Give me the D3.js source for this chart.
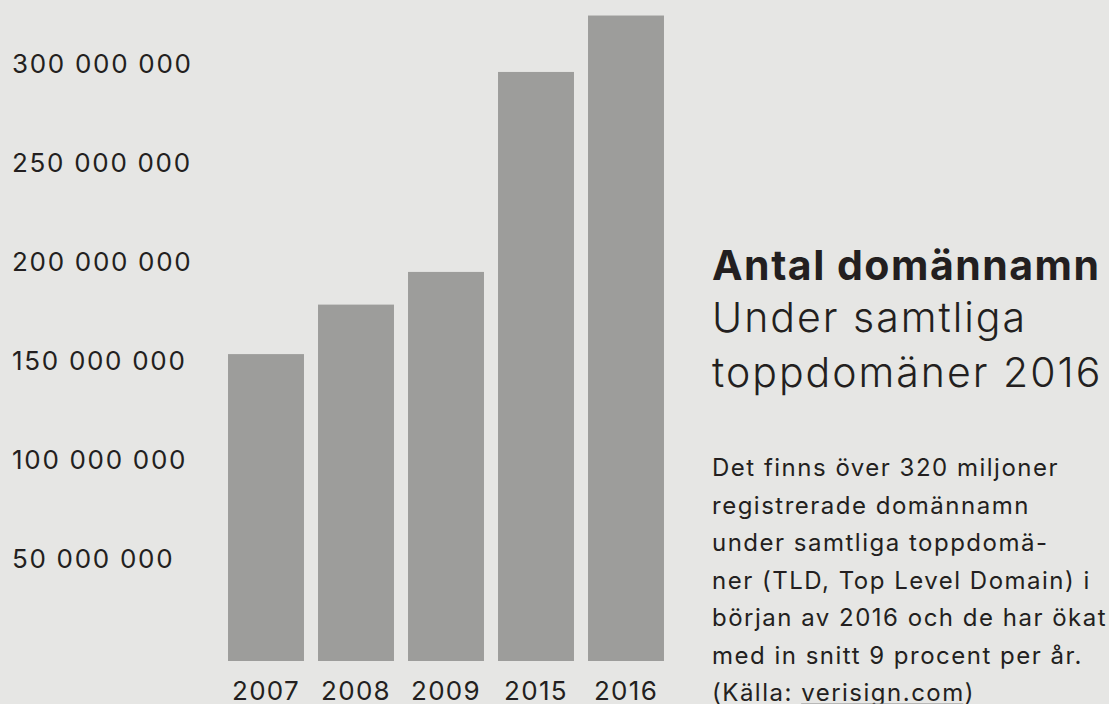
<!DOCTYPE html>
<html>
<head>
<meta charset="utf-8">
<script src="https://cdn.jsdelivr.net/npm/d3@7"></script>
<style>
  html, body { margin: 0; padding: 0; background: #e6e6e4; }
  svg { display: block; }
  text { font-family: Inter, "Open Sans", sans-serif; fill: #231f20; }
</style>
</head>
<body>
<svg id="chart" width="1109" height="704"></svg>
<script>
const categories = ["2007", "2008", "2009", "2015", "2016"];
const values = [155000000, 180000000, 196500000, 297500000, 326000000];
const tickValues = [50000000, 100000000, 150000000, 200000000, 250000000, 300000000];
const tickLabels = ["50 000 000", "100 000 000", "150 000 000", "200 000 000", "250 000 000", "300 000 000"];
const titleBold = "Antal domännamn";
const titleLines = ["Under samtliga", "toppdomäner 2016"];
const bodyLines = [
  "Det finns över 320 miljoner",
  "registrerade domännamn",
  "under samtliga toppdomä-",
  "ner (TLD, Top Level Domain) i",
  "början av 2016 och de har ökat",
  "med in snitt 9 procent per år."
];
const sourcePrefix = "(Källa: ";
const sourceLink = "verisign.com";
const sourceSuffix = ")";

const svg = d3.select("#chart");
svg.append("rect").attr("width", 1109).attr("height", 704).attr("fill", "#e6e6e4");

const x = d3.scaleBand().domain(categories).range([221, 671]).paddingInner(0.156).paddingOuter(0.078);
const y = d3.scaleLinear().domain([0, 300000000]).range([661, 67]);

svg.append("g").selectAll("rect").data(categories).join("rect")
  .attr("x", d => x(d))
  .attr("width", x.bandwidth())
  .attr("y", (d, i) => y(values[i]))
  .attr("height", (d, i) => y(0) - y(values[i]))
  .attr("fill", "#9d9d9b");

// Y axis (labels only)
const yAxis = d3.axisLeft(y).tickValues(tickValues)
  .tickFormat((d, i) => tickLabels[i]).tickSize(0).tickPadding(0);
const gy = svg.append("g").attr("transform", "translate(12,0)").call(yAxis);
gy.select(".domain").remove();
gy.selectAll("text")
  .attr("text-anchor", "start")
  .attr("x", 0)
  .attr("dy", null)
  .attr("y", 5)
  .attr("fill", "#231f20")
  .style("font-family", "Inter, sans-serif")
  .style("font-size", "26px")
  .style("letter-spacing", "1.7px");

// X axis
const xAxis = d3.axisBottom(x).tickSize(0).tickPadding(0);
const gx = svg.append("g").attr("transform", "translate(0,700)").call(xAxis);
gx.select(".domain").remove();
gx.selectAll("text")
  .attr("y", 0).attr("dy", null)
  .attr("fill", "#231f20")
  .style("font-family", "Inter, sans-serif")
  .style("font-size", "26px")
  .style("letter-spacing", "1.3px");

// Title block
const tx = 712;
svg.append("text").attr("x", tx).attr("y", 280)
  .style("font-size", "41px").style("font-weight", "700").style("letter-spacing", "1.5px").text(titleBold);
titleLines.forEach((t, i) => {
  svg.append("text").attr("x", tx).attr("y", 332 + i * 55)
    .style("font-size", "41px").style("font-weight", "300").style("letter-spacing", "2px").text(t);
});

const bodyFont = "24px";
const bodyLS = "1.5px";
bodyLines.forEach((t, i) => {
  svg.append("text").attr("x", tx).attr("y", 476 + i * 37.5)
    .style("font-size", bodyFont).style("font-weight", "400").style("letter-spacing", bodyLS).text(t);
});
const srcY = 476 + 6 * 37.5;
const src = svg.append("text").attr("x", tx).attr("y", srcY)
  .style("font-size", bodyFont).style("font-weight", "400").style("letter-spacing", bodyLS);
src.append("tspan").text(sourcePrefix);
src.append("tspan").text(sourceLink);
src.append("tspan").text(sourceSuffix);
const node = src.node();
const pre = node.getSubStringLength(0, sourcePrefix.length);
const ll = node.getSubStringLength(sourcePrefix.length, sourceLink.length);
svg.append("line")
  .attr("x1", tx + pre).attr("x2", tx + pre + ll - 1.5)
  .attr("y1", srcY + 3).attr("y2", srcY + 3)
  .attr("stroke", "#8a8a8a").attr("stroke-width", 1.2);
</script>
</body>
</html>
